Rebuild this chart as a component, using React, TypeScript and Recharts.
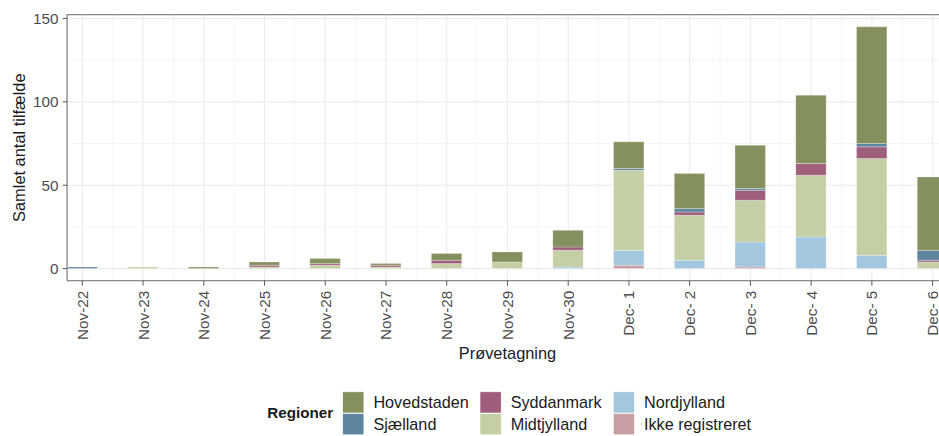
import React from 'react';
import { BarChart, Bar, XAxis, YAxis, CartesianGrid, ReferenceArea } from 'recharts';

// ---- data ----
const dates = [
  'Nov-22', 'Nov-23', 'Nov-24', 'Nov-25', 'Nov-26', 'Nov-27', 'Nov-28', 'Nov-29', 'Nov-30',
  'Dec- 1', 'Dec- 2', 'Dec- 3', 'Dec- 4', 'Dec- 5', 'Dec- 6',
];
const hovedstaden = [0, 0, 1, 2, 3, 1, 4, 6, 10, 16, 21, 26, 41, 70, 44];
const sjaelland = [1, 0, 0, 0, 0, 0, 0, 0, 0, 1, 2, 1, 0, 2, 6];
const syddanmark = [0, 0, 0, 1, 1, 1, 2, 0, 2, 0, 2, 6, 7, 7, 1];
const midtjylland = [0, 1, 0, 1, 2, 1, 3, 4, 10, 48, 27, 25, 37, 58, 4];
const nordjylland = [0, 0, 0, 0, 0, 0, 0, 0, 1, 9, 5, 15, 19, 8, 0];
const ikkeRegistreret = [0, 0, 0, 0, 0, 0, 0, 0, 0, 2, 0, 1, 0, 0, 0];

const seriesNames = ['Hovedstaden', 'Sjælland', 'Syddanmark', 'Midtjylland', 'Nordjylland', 'Ikke registreret'];
const seriesColors = ['#84905E', '#5E86A0', '#9E5E7C', '#C4CFA6', '#A4C7E0', '#C99EA2'];
const seriesValues = [hovedstaden, sjaelland, syddanmark, midtjylland, nordjylland, ikkeRegistreret];

const yTicks = [0, 50, 100, 150];
const yMinorTicks = [25, 75, 125];
const xTicks = dates.map((_, i) => i);
const xMinorTicks = dates.slice(1).map((_, i) => i + 0.5);

const legendTitle = 'Regioner';
const xTitle = 'Prøvetagning';
const yTitle = 'Samlet antal tilfælde';

const data = dates.map((d, i) => {
  const row: Record<string, number | string> = { i, date: d };
  seriesNames.forEach((name, k) => {
    row[name] = seriesValues[k][i];
  });
  return row;
});

// stacking order: bottom first
const stackOrder = [5, 4, 3, 2, 1, 0];

const FONT = '"Liberation Sans", Arial, Helvetica, sans-serif';

const XTick = (props: any) => {
  const { x, y, payload } = props;
  return (
    <g transform={`translate(${x},${y})`}>
      <text
        transform="rotate(-90)"
        textAnchor="end"
        dy="0.36em"
        fill="#4D4D4D"
        fontSize={15.3}
        fontFamily={FONT}
      >
        {dates[payload.value]}
      </text>
    </g>
  );
};

const Overlay = () => {
  const colX = [342.7, 480, 613.3];
  const rowY = [391.8, 413.6];
  const sw = 21.2;
  return (
    <svg
      width={939}
      height={436}
      style={{ position: 'absolute', left: 0, top: 0, pointerEvents: 'none' }}
      fontFamily={FONT}
    >
      <text
        transform="translate(25,147.7) rotate(-90)"
        textAnchor="middle"
        fontSize={16.4}
        fill="#1A1A1A"
      >
        {yTitle}
      </text>
      <text x={507.5} y={358.5} textAnchor="middle" fontSize={16.4} fill="#1A1A1A">
        {xTitle}
      </text>
      <text x={267.3} y={413} dy="0.36em" fontSize={15.2} fontWeight="bold" fill="#1A1A1A">
        {legendTitle}
      </text>
      {seriesNames.map((name, k) => {
        const c = Math.floor(k / 2);
        const r = k % 2;
        const x = colX[c];
        const y = rowY[r];
        return (
          <g key={name}>
            <rect x={x} y={y} width={sw} height={sw} fill={seriesColors[k]} stroke="#ffffff" strokeWidth={0.6} />
            <text x={x + sw + 9.5} y={y + sw / 2} dy="0.36em" fontSize={16.2} fill="#1A1A1A">
              {name}
            </text>
          </g>
        );
      })}
    </svg>
  );
};

export default function App() {
  return (
    <div
      style={{
        position: 'absolute',
        left: 0,
        top: 0,
        width: 939,
        height: 436,
        overflow: 'hidden',
        background: '#ffffff',
        fontFamily: FONT,
      }}
    >
      <BarChart
        width={980}
        height={436}
        data={data}
        margin={{ top: 14.7, right: 32.2, bottom: 75.3, left: 0 }}
      >
        <XAxis
          xAxisId="minor"
          type="number"
          dataKey="i"
          domain={[-0.25, 14.25]}
          ticks={xMinorTicks}
          allowDataOverflow
          hide
        />
        <YAxis
          yAxisId="minor"
          type="number"
          domain={[-7.25, 152.25]}
          ticks={yMinorTicks}
          allowDataOverflow
          hide
        />
        <CartesianGrid
          xAxisId="minor"
          yAxisId="minor"
          stroke="#F2F2F2"
          strokeWidth={0.7}
        />
        <XAxis
          type="number"
          dataKey="i"
          domain={[-0.25, 14.25]}
          ticks={xTicks}
          interval={0}
          allowDataOverflow
          axisLine={false}
          tickSize={5}
          tickMargin={5}
          tickLine={{ stroke: '#555555', strokeWidth: 1 }}
          tick={<XTick />}
          height={80}
        />
        <YAxis
          type="number"
          domain={[-7.25, 152.25]}
          ticks={yTicks}
          allowDataOverflow
          axisLine={false}
          width={67.1}
          tickSize={4.5}
          tickMargin={4}
          tickLine={{ stroke: '#555555', strokeWidth: 1 }}
          tick={{ fill: '#4D4D4D', fontSize: 15.3, fontFamily: FONT }}
        />
        <CartesianGrid stroke="#EBEBEB" strokeWidth={1.1} />
        {stackOrder.map((k) => (
          <Bar
            key={seriesNames[k]}
            dataKey={seriesNames[k]}
            stackId="a"
            fill={seriesColors[k]}
            stroke="#ffffff"
            strokeWidth={0.4}
            strokeOpacity={0.7}
            barSize={30.4}
            isAnimationActive={false}
          />
        ))}
        <ReferenceArea
          x1={-0.25}
          x2={14.25}
          y1={-7.25}
          y2={152.25}
          fill="none"
          stroke="#8A8A8A"
          strokeWidth={1.3}
          ifOverflow="visible"
        />
      </BarChart>
      <Overlay />
    </div>
  );
}
